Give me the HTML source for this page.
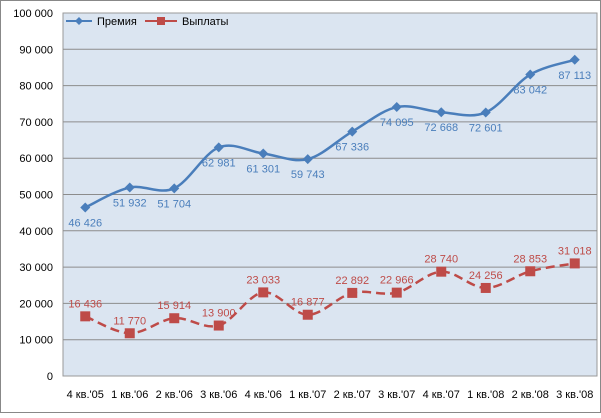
<!DOCTYPE html>
<html><head><meta charset="utf-8"><style>
body{margin:0;background:#fff;font-family:"Liberation Sans",sans-serif}
svg text{font-family:"Liberation Sans","Noto Sans CJK SC",sans-serif}
</style></head><body>
<svg width="601" height="413">
<rect x="0.5" y="0.5" width="600" height="412" fill="#fff" stroke="#888"/>
<rect x="63" y="13" width="534" height="363" fill="#dbe5f1" stroke="#999"/>
<g id="grid"></g><g id="ax"></g><g id="ser"></g>
<g>
<line x1="66" y1="21" x2="92" y2="21" stroke="#4a7ebb" stroke-width="2"/><path d="M79 17 L83 21 L79 25 L75 21Z" fill="#4a7ebb"/>
<text x="97" y="25" font-size="11" fill="#000">Премия</text>
<line x1="145" y1="21" x2="177" y2="21" stroke="#be4b48" stroke-width="2"/><rect x="157" y="17" width="8" height="8" fill="#be4b48"/>
<text x="182" y="25" font-size="11" fill="#000">Выплаты</text>
</g>
</svg>
<script>
const categories=["4 кв.'05","1 кв.'06","2 кв.'06","3 кв.'06","4 кв.'06","1 кв.'07","2 кв.'07","3 кв.'07","4 кв.'07","1 кв.'08","2 кв.'08","3 кв.'08"];
const premia=[46426,51932,51704,62981,61301,59743,67336,74095,72668,72601,83042,87113];
const vyplaty=[16436,11770,15914,13900,23033,16877,22892,22966,28740,24256,28853,31018];
const yTicks=[0,10000,20000,30000,40000,50000,60000,70000,80000,90000,100000];
const NS="http://www.w3.org/2000/svg";
const L=63,R=597,T=13,B=376,YMAX=100000;
const x=i=>L+(R-L)/categories.length*(i+0.5);
const y=v=>B-(B-T)*v/YMAX;
const fmt=v=>String(v).replace(/\B(?=(\d{3})+(?!\d))/g," ");
function el(t,a,p){const e=document.createElementNS(NS,t);for(const k in a)e.setAttribute(k,a[k]);document.getElementById(p).appendChild(e);return e;}
yTicks.forEach(v=>{
 if(v>0&&v<YMAX){const g=el('line',{x1:L,x2:R,y1:y(v),y2:y(v),stroke:'#8c8c8c','stroke-width':1},'grid');
 
 }
 const t=el('text',{x:53,y:y(v)+4,'text-anchor':'end','font-size':11,fill:'#000'},'ax');t.textContent=fmt(v);
 
 
});
categories.forEach((c,i)=>{const t=el('text',{x:x(i),y:398,'text-anchor':'middle','font-size':11,fill:'#000'},'ax');t.textContent=c;
 
 });
function smooth(pts){let d=`M${pts[0][0]},${pts[0][1]}`;for(let i=0;i<pts.length-1;i++){const p0=pts[i-1]||pts[i],p1=pts[i],p2=pts[i+1],p3=pts[i+2]||p2;const k=1/6;
d+=` C${p1[0]+(p2[0]-p0[0])*k},${p1[1]+(p2[1]-p0[1])*k} ${p2[0]-(p3[0]-p1[0])*k},${p2[1]-(p3[1]-p1[1])*k} ${p2[0]},${p2[1]}`;}return d;}
function series(vals,col,dash,marker,lblDy,name){
 const pts=vals.map((v,i)=>[x(i),y(v)]);
 const p=el('path',{d:smooth(pts),fill:'none',stroke:col,'stroke-width':2.5,'stroke-dasharray':dash},'ser');
 
 
 pts.forEach((q,i)=>{let m;
  if(marker==='d')m=el('path',{d:`M${q[0]} ${q[1]-5}L${q[0]+5} ${q[1]}L${q[0]} ${q[1]+5}L${q[0]-5} ${q[1]}Z`,fill:col},'ser');
  else m=el('rect',{x:q[0]-5,y:q[1]-5,width:10,height:10,fill:col},'ser');
  
  
  const t=el('text',{x:q[0],y:q[1]+lblDy,'text-anchor':'middle','font-size':11,fill:col},'ser');t.textContent=fmt(vals[i]);
  
  
 });
}
series(premia,'#4a7ebb','none','d',19,'premia');
series(vyplaty,'#be4b48','9,5','s',-9,'vyplaty');
</script>
</body></html>
